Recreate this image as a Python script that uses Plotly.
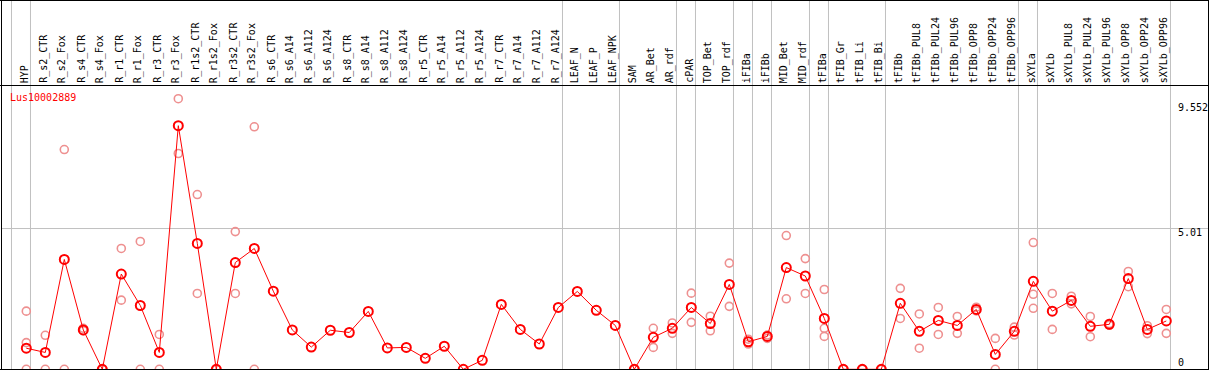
import plotly.graph_objects as go

categories = ["HYP", "R_s2_CTR", "R_s2_Fox", "R_s4_CTR", "R_s4_Fox", "R_r1_CTR", "R_r1_Fox",
              "R_r3_CTR", "R_r3_Fox", "R_r1s2_CTR", "R_r1s2_Fox", "R_r3s2_CTR", "R_r3s2_Fox",
              "R_s6_CTR", "R_s6_A14", "R_s6_A112", "R_s6_A124", "R_s8_CTR", "R_s8_A14",
              "R_s8_A112", "R_s8_A124", "R_r5_CTR", "R_r5_A14", "R_r5_A112", "R_r5_A124",
              "R_r7_CTR", "R_r7_A14", "R_r7_A112", "R_r7_A124", "LEAF_N", "LEAF_P", "LEAF_NPK",
              "SAM", "AR_Bet", "AR_rdf", "cPAR", "TOP_Bet", "TOP_rdf", "iFIBa", "iFIBb",
              "MID_Bet", "MID_rdf", "tFIBa", "tFIB_Gr", "tFIB_Li", "tFIB_Bi", "tFIBb",
              "tFIBb_PUL8", "tFIBb_PUL24", "tFIBb_PUL96", "tFIBb_OPP8", "tFIBb_OPP24",
              "tFIBb_OPP96", "sXYLa", "sXYLb", "sXYLb_PUL8", "sXYLb_PUL24", "sXYLb_PUL96",
              "sXYLb_OPP8", "sXYLb_OPP24", "sXYLb_OPP96"]

mean_values = [0.75, 0.60, 3.91, 1.40, 0.0, 3.39, 2.27, 0.60, 8.67, 4.48, 0.0, 3.80, 4.30,
               2.78, 1.40, 0.79, 1.39, 1.31, 2.06, 0.76, 0.78, 0.39, 0.82, 0.0, 0.32, 2.31,
               1.42, 0.90, 2.20, 2.77, 2.10, 1.56, 0.0, 1.14, 1.46, 2.20, 1.63, 3.02, 0.98,
               1.17, 3.62, 3.32, 1.81, 0.0, 0.0, 0.0, 2.35, 1.35, 1.74, 1.56, 2.13, 0.53,
               1.35, 3.13, 2.07, 2.45, 1.53, 1.60, 3.23, 1.42, 1.72]

replicates = [[2.07, 0.95, 0.0], [1.21, 0.0], [7.82, 0.0], [1.46, 1.37], [0.0, 0.0],
              [4.30, 2.46], [4.55, 0.0], [1.24, 0.0], [9.63, 7.68], [6.22, 2.70], [0.0, 0.0],
              [4.90, 2.70], [8.63, 0.0],
              [], [], [], [], [], [], [], [], [], [], [], [], [], [], [], [], [], [], [],
              [0.0, 0.0], [1.46, 0.78], [1.65, 1.28], [2.71, 1.67], [1.89, 1.37], [3.78, 2.24],
              [1.07, 0.90], [1.22, 1.10], [4.76, 2.51], [3.94, 2.70], [2.84, 1.46, 1.17],
              [0.0, 0.0], [0.0, 0.0], [0.0, 0.0], [2.88, 1.81], [1.97, 0.75], [2.20, 1.24],
              [1.88, 1.28], [2.21, 2.08], [1.10, 0.0], [1.50, 1.22], [4.51, 2.67, 2.17],
              [2.70, 1.42], [2.60, 2.33], [1.88, 1.16], [1.63, 1.57], [3.48, 2.94],
              [1.55, 1.27], [2.13, 1.28]]

group_starts = [0, 1, 29, 32, 35, 36, 38, 39, 40, 42, 43, 46, 53, 54, 61]
gene_name = "Lus10002889"
axis_labels = [9.552, 5.01, 0]
axis_label_shifts = [-6.8, -3.5, 7.0]

W, H = 1209, 370
PX_PER_CAT = 19.0
X0_PX = 26.3
Y_BOTTOM_PX = 369.3
Y_TOP_PX = 86.0
PX_PER_UNIT = 28.1

xr = [(0 - X0_PX) / PX_PER_CAT, (W - X0_PX) / PX_PER_CAT]
yr = [0, (Y_BOTTOM_PX - Y_TOP_PX) / PX_PER_UNIT]

FONT = "DejaVu Sans Mono"
RED = "#ff0000"
PINK = "#ee9090"

idx = list(range(len(categories)))

rx, ry = [], []
for i, reps in enumerate(replicates):
    for v in reps:
        rx.append(i)
        ry.append(v)

fig = go.Figure()
fig.add_trace(go.Scatter(x=rx, y=ry, mode="markers",
                         marker=dict(symbol="circle-open", size=8, color=PINK,
                                     line=dict(width=1.6, color=PINK)),
                         hoverinfo="skip", showlegend=False))
fig.add_trace(go.Scatter(x=idx, y=mean_values, mode="lines+markers",
                         line=dict(color=RED, width=1),
                         marker=dict(symbol="circle-open", size=9, color=RED,
                                     line=dict(width=2, color=RED)),
                         text=categories, showlegend=False))

shapes = []
shapes.append(dict(type="line", xref="paper", yref="y", x0=1 / W, x1=1208 / W,
                   y0=axis_labels[1], y1=axis_labels[1], line=dict(color="#c0c0c0", width=1),
                   layer="below"))
for k in group_starts:
    shapes.append(dict(type="line", xref="x", yref="paper", x0=k - 0.78, x1=k - 0.78,
                       y0=0, y1=1, line=dict(color="#c0c0c0", width=1), layer="below"))


def px_x(p):
    return p / W


def px_y(p):
    return 1 - p / H


black = dict(color="#000000", width=1)
shapes += [
    dict(type="line", xref="paper", yref="paper", x0=0, x1=1, y0=px_y(0.5), y1=px_y(0.5), line=black),
    dict(type="line", xref="paper", yref="paper", x0=0, x1=1, y0=px_y(85.5), y1=px_y(85.5), line=black),
    dict(type="line", xref="paper", yref="paper", x0=0, x1=1, y0=px_y(369.5), y1=px_y(369.5), line=black),
    dict(type="line", xref="paper", yref="paper", x0=px_x(1.5), x1=px_x(1.5), y0=0, y1=1, line=black),
    dict(type="line", xref="paper", yref="paper", x0=px_x(1208.5), x1=px_x(1208.5), y0=0, y1=1, line=black),
]

annotations = []
for i, c in enumerate(categories):
    annotations.append(dict(x=i, xref="x", y=px_y(84), yref="paper", text=c, textangle=-90,
                            showarrow=False, xanchor="center", yanchor="bottom", xshift=-2,
                            font=dict(family=FONT, size=10, color="#000000"), borderpad=0))
annotations.append(dict(x=px_x(9), xref="paper", y=px_y(97), yref="paper", text=gene_name,
                        showarrow=False, xanchor="left", yanchor="middle",
                        font=dict(family=FONT, size=10, color=RED), borderpad=0))
for v, s in zip(axis_labels, axis_label_shifts):
    annotations.append(dict(x=px_x(1177), xref="paper", y=v, yref="y", text=str(v),
                            showarrow=False, xanchor="left", yanchor="middle", yshift=s,
                            font=dict(family=FONT, size=10, color="#000000"), borderpad=0))

fig.update_layout(
    width=W, height=H, margin=dict(l=0, r=0, t=0, b=0),
    paper_bgcolor="white", plot_bgcolor="white",
    xaxis=dict(range=xr, domain=[0, 1], visible=False, showgrid=False, zeroline=False),
    yaxis=dict(range=yr, domain=[1 - Y_BOTTOM_PX / H, 1 - Y_TOP_PX / H], visible=False,
               showgrid=False, zeroline=False),
    shapes=shapes, annotations=annotations, showlegend=False,
)

fig.write_html("out.html", config={"displayModeBar": False},
               post_script="document.body.style.margin='0';document.body.style.padding='0';"
                           "document.body.style.overflow='hidden';")
